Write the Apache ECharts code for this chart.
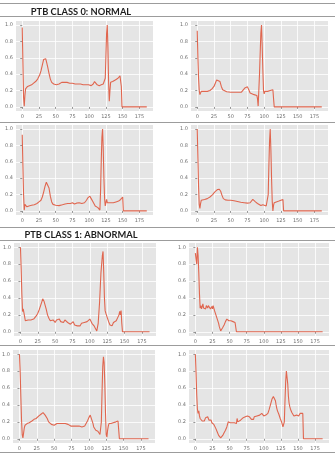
<!DOCTYPE html>
<html>
<head>
<meta charset="utf-8">
<script src="https://cdn.jsdelivr.net/npm/echarts@6/dist/echarts.min.js"></script>
<style>
  html, body { margin: 0; padding: 0; background: #ffffff; }
  #chart { width: 335px; height: 461px; }
</style>
</head>
<body>
<div id="chart"></div>
<script>
// Tick labels shared by every panel
const xTicks = [0, 25, 50, 75, 100, 125, 150, 175];
const yTicks = [0, 0.2, 0.4, 0.6, 0.8, 1.0];
const sectionTitles = ['PTB CLASS 0: NORMAL', 'PTB CLASS 1: ABNORMAL'];

// Heartbeat samples: [sample index, normalised amplitude]
const normalBeat1 = [[0,0.97],[1,0.55],[2,0.12],[3,0.01],[4,0.14],[5,0.22],[6,0.24],[8,0.25],[10,0.26],[14,0.27],[17,0.29],[20,0.31],[23,0.34],[26,0.39],[28,0.44],[30,0.51],[32,0.58],[33,0.6],[34,0.6],[35,0.59],[36,0.56],[38,0.49],[40,0.41],[42,0.34],[44,0.3],[47,0.28],[51,0.27],[55,0.28],[59,0.3],[63,0.3],[67,0.3],[71,0.29],[75,0.29],[79,0.28],[83,0.28],[87,0.28],[91,0.27],[95,0.27],[99,0.27],[103,0.26],[106,0.28],[108,0.31],[110,0.29],[112,0.27],[115,0.26],[118,0.27],[121,0.28],[123,0.27],[124,0.35],[125,0.62],[126,0.9],[127,1.0],[128,0.72],[129,0.3],[130,0.07],[131,0.2],[132,0.3],[135,0.31],[139,0.33],[143,0.35],[146,0.38],[147,0.4],[148,0.25],[149,0.0],[186,0.0]];
const normalBeat2 = [[0,0.93],[1,0.6],[2,0.35],[3,0.2],[4,0.15],[5,0.17],[6,0.19],[10,0.19],[15,0.19],[19,0.2],[22,0.22],[25,0.25],[27,0.29],[29,0.33],[31,0.35],[32,0.35],[34,0.31],[36,0.25],[38,0.21],[40,0.19],[44,0.185],[50,0.18],[56,0.18],[62,0.18],[66,0.18],[68,0.2],[71,0.23],[73,0.24],[75,0.245],[77,0.21],[79,0.17],[81,0.155],[85,0.15],[89,0.14],[90,0.1],[91,0.01],[93,0.4],[95,0.9],[96,1.0],[97,0.75],[98,0.45],[99,0.2],[100,0.16],[101,0.19],[105,0.19],[109,0.2],[113,0.21],[114,0.1],[115,0.0],[186,0.0]];
const normalBeat3 = [[0,0.93],[1,0.55],[2,0.2],[3,0.01],[4,0.08],[5,0.06],[7,0.05],[10,0.06],[14,0.07],[18,0.075],[22,0.09],[25,0.11],[28,0.13],[30,0.17],[32,0.23],[34,0.3],[36,0.35],[37,0.36],[38,0.35],[40,0.28],[42,0.18],[44,0.11],[46,0.08],[50,0.07],[55,0.065],[60,0.075],[64,0.085],[68,0.09],[72,0.09],[75,0.1],[78,0.085],[81,0.095],[85,0.1],[89,0.09],[93,0.1],[96,0.13],[98,0.16],[100,0.17],[101,0.18],[103,0.15],[105,0.12],[107,0.09],[109,0.06],[111,0.05],[113,0.04],[115,0.03],[116,0.01],[117,0.25],[118,0.6],[119,0.9],[120,1.0],[121,0.75],[122,0.4],[123,0.15],[124,0.06],[125,0.1],[126,0.14],[127,0.1],[129,0.09],[132,0.1],[136,0.1],[140,0.11],[144,0.12],[147,0.14],[149,0.16],[150,0.17],[151,0.0],[186,0.0]];
const normalBeat4 = [[0,1.0],[1,0.65],[2,0.3],[3,0.08],[4,0.03],[5,0.09],[6,0.13],[8,0.135],[11,0.14],[15,0.15],[19,0.17],[23,0.2],[26,0.23],[28,0.25],[30,0.26],[32,0.27],[33,0.265],[35,0.24],[37,0.19],[39,0.15],[42,0.135],[46,0.13],[50,0.13],[55,0.125],[60,0.115],[65,0.105],[70,0.1],[75,0.095],[79,0.1],[81,0.12],[83,0.14],[85,0.135],[87,0.11],[88,0.115],[90,0.09],[92,0.07],[95,0.065],[98,0.075],[100,0.08],[103,0.06],[105,0.08],[106,0.2],[107,0.55],[108,0.85],[109,1.0],[110,0.75],[111,0.4],[112,0.12],[113,0.0],[114,0.07],[115,0.1],[118,0.11],[122,0.12],[125,0.13],[128,0.14],[129,0.0],[186,0.0]];
const abnormalBeat1 = [[0,1.0],[1,0.75],[2,0.45],[3,0.24],[4,0.27],[5,0.25],[6,0.18],[7,0.13],[9,0.13],[11,0.14],[13,0.13],[15,0.14],[17,0.15],[19,0.15],[21,0.17],[23,0.19],[25,0.22],[27,0.26],[29,0.31],[31,0.36],[32,0.39],[33,0.39],[34,0.36],[35,0.33],[37,0.27],[39,0.2],[41,0.16],[43,0.13],[45,0.11],[47,0.14],[48,0.12],[50,0.11],[52,0.14],[54,0.12],[56,0.15],[58,0.12],[60,0.13],[62,0.11],[64,0.14],[66,0.12],[68,0.11],[70,0.13],[72,0.09],[74,0.1],[76,0.12],[78,0.08],[80,0.09],[82,0.07],[84,0.08],[86,0.07],[88,0.1],[90,0.08],[92,0.11],[94,0.1],[96,0.12],[98,0.11],[100,0.15],[101,0.13],[103,0.1],[104,0.12],[106,0.07],[108,0.04],[110,0.01],[112,0.1],[114,0.35],[116,0.7],[118,0.9],[119,0.95],[120,0.7],[121,0.4],[122,0.25],[123,0.22],[124,0.24],[125,0.2],[127,0.12],[129,0.08],[131,0.1],[132,0.07],[134,0.11],[136,0.09],[138,0.13],[140,0.15],[142,0.2],[143,0.24],[144,0.2],[145,0.25],[146,0.1],[147,0.0],[186,0.0]];
const abnormalBeat2 = [[0,0.93],[1,0.86],[2,0.8],[3,1.0],[4,0.9],[5,0.7],[6,0.45],[7,0.28],[8,0.31],[9,0.27],[10,0.3],[11,0.33],[12,0.28],[13,0.3],[14,0.3],[15,0.27],[16,0.31],[17,0.3],[18,0.28],[19,0.31],[20,0.29],[21,0.3],[22,0.27],[23,0.29],[24,0.3],[25,0.27],[26,0.31],[27,0.28],[28,0.25],[30,0.2],[32,0.15],[34,0.1],[35,0.06],[37,0.01],[38,0.02],[40,0.05],[42,0.08],[44,0.12],[46,0.15],[47,0.17],[48,0.15],[49,0.13],[50,0.14],[52,0.13],[53,0.14],[55,0.12],[57,0.13],[58,0.11],[59,0.13],[60,0.0],[186,0.0]];
const abnormalBeat3 = [[0,1.0],[1,0.8],[2,0.5],[3,0.22],[4,0.05],[5,0.01],[6,0.07],[7,0.13],[8,0.16],[10,0.17],[11,0.18],[12,0.17],[14,0.19],[15,0.18],[16,0.2],[18,0.21],[19,0.2],[21,0.23],[22,0.22],[24,0.24],[26,0.25],[28,0.27],[29,0.26],[31,0.29],[32,0.3],[34,0.31],[35,0.3],[36,0.31],[37,0.28],[38,0.27],[40,0.24],[42,0.2],[44,0.18],[46,0.17],[48,0.17],[50,0.16],[52,0.17],[54,0.18],[56,0.17],[58,0.18],[60,0.19],[62,0.18],[64,0.17],[66,0.18],[68,0.16],[70,0.17],[72,0.16],[74,0.15],[76,0.16],[78,0.15],[80,0.14],[82,0.15],[84,0.14],[86,0.15],[88,0.13],[90,0.14],[92,0.13],[94,0.15],[96,0.18],[98,0.21],[100,0.25],[102,0.28],[103,0.27],[104,0.23],[106,0.18],[107,0.14],[108,0.12],[110,0.1],[111,0.11],[113,0.09],[115,0.08],[116,0.05],[117,0.03],[118,0.2],[119,0.55],[120,0.85],[121,0.97],[122,0.9],[123,0.65],[124,0.3],[125,0.05],[126,0.02],[127,0.1],[128,0.15],[129,0.18],[130,0.2],[132,0.18],[133,0.2],[135,0.19],[137,0.21],[139,0.2],[141,0.22],[142,0.21],[143,0.22],[144,0.0],[186,0.0]];
const abnormalBeat4 = [[0,1.0],[1,0.78],[2,0.52],[3,0.35],[4,0.3],[5,0.33],[6,0.27],[7,0.24],[8,0.22],[9,0.24],[10,0.21],[11,0.22],[12,0.23],[13,0.21],[14,0.22],[15,0.25],[16,0.23],[17,0.24],[18,0.26],[19,0.24],[20,0.22],[21,0.23],[22,0.21],[23,0.22],[24,0.19],[25,0.2],[26,0.18],[27,0.17],[28,0.18],[29,0.15],[30,0.12],[32,0.08],[34,0.04],[36,0.02],[37,0.01],[38,0.01],[39,0.02],[40,0.04],[42,0.07],[44,0.1],[46,0.14],[47,0.16],[48,0.2],[49,0.18],[50,0.2],[51,0.19],[52,0.21],[54,0.19],[55,0.2],[57,0.19],[58,0.21],[59,0.2],[60,0.18],[61,0.24],[62,0.2],[64,0.21],[66,0.22],[68,0.24],[70,0.25],[72,0.27],[73,0.26],[74,0.28],[76,0.27],[78,0.28],[79,0.26],[80,0.24],[82,0.23],[84,0.25],[85,0.23],[86,0.26],[88,0.25],[90,0.27],[92,0.26],[94,0.28],[95,0.27],[96,0.29],[97,0.3],[98,0.28],[100,0.27],[102,0.29],[103,0.28],[104,0.27],[106,0.3],[108,0.35],[110,0.41],[112,0.47],[114,0.5],[115,0.5],[116,0.48],[117,0.45],[118,0.4],[119,0.36],[120,0.33],[122,0.29],[124,0.24],[126,0.2],[127,0.17],[128,0.14],[129,0.13],[130,0.2],[131,0.45],[132,0.68],[133,0.8],[134,0.8],[135,0.65],[136,0.5],[137,0.42],[138,0.38],[139,0.35],[141,0.31],[142,0.33],[143,0.3],[144,0.27],[146,0.29],[148,0.28],[150,0.3],[151,0.27],[153,0.3],[155,0.28],[157,0.3],[158,0.0],[186,0.0]];

const beats = [normalBeat1, normalBeat2, normalBeat3, normalBeat4,
               abnormalBeat1, abnormalBeat2, abnormalBeat3, abnormalBeat4];

// Plot boxes: left, top, width, height (px)
const panelBoxes = [
  [16, 21, 137, 90], [191, 21, 137, 90],
  [16, 125, 137, 90], [191, 125, 137, 90],
  [14, 243, 142, 93], [189, 243, 140, 93],
  [13, 350, 142, 93], [189, 350, 140, 93]
];

const lineColor = '#E0664F';
const tickColor = '#6a6a6a';

const grid = [], xAxis = [], yAxis = [], series = [];
panelBoxes.forEach((b, i) => {
  grid.push({
    left: b[0], top: b[1], width: b[2], height: b[3],
    show: true, backgroundColor: '#E5E5E5', borderWidth: 0,
    outerBoundsMode: 'none', containLabel: false
  });
  xAxis.push({
    type: 'value', gridIndex: i, min: -9.3, max: 195.3,
    axisLine: { show: false },
    axisTick: { show: true, customValues: xTicks, length: 2, lineStyle: { color: tickColor, width: 0.7 } },
    axisLabel: { customValues: xTicks, fontSize: 5, color: '#707070', margin: 3, fontFamily: 'DejaVu Sans' },
    splitLine: { show: true, lineStyle: { color: '#ffffff', width: 0.8 } }
  });
  yAxis.push({
    type: 'value', gridIndex: i, min: -0.05, max: 1.05,
    axisLine: { show: false },
    axisTick: { show: true, customValues: yTicks, length: 2, lineStyle: { color: tickColor, width: 0.7 } },
    axisLabel: { customValues: yTicks, fontSize: 5, color: '#707070', margin: 3, fontFamily: 'DejaVu Sans',
                 formatter: v => Number(v).toFixed(1) },
    splitLine: { show: true, lineStyle: { color: '#ffffff', width: 0.8 } }
  });
  series.push({
    type: 'line', xAxisIndex: i, yAxisIndex: i, data: beats[i],
    showSymbol: false, symbol: 'none', silent: true,
    lineStyle: { color: lineColor, width: 1.1 }
  });
});

// Section rules and headings
const ruleY = [3.5, 16.5, 122.5, 227.5, 240.5, 345.5, 452.5];
const graphic = ruleY.map(y => ({
  type: 'line', silent: true,
  shape: { x1: 0, y1: y, x2: 335, y2: y },
  style: { stroke: '#9c9c9c', lineWidth: 1 }
}));
[[sectionTitles[0], 11.6], [sectionTitles[1], 235]].forEach(([text, y]) => {
  graphic.push({
    type: 'text', silent: true, x: 81, y: y,
    style: { text: text, fill: '#1e1e1e', font: 'bold 9.3px Lato', align: 'center', verticalAlign: 'middle' }
  });
});

const chart = echarts.init(document.getElementById('chart'), null, { renderer: 'canvas' });
chart.setOption({
  animation: false,
  backgroundColor: '#ffffff',
  grid, xAxis, yAxis, series, graphic
});
</script>
</body>
</html>
